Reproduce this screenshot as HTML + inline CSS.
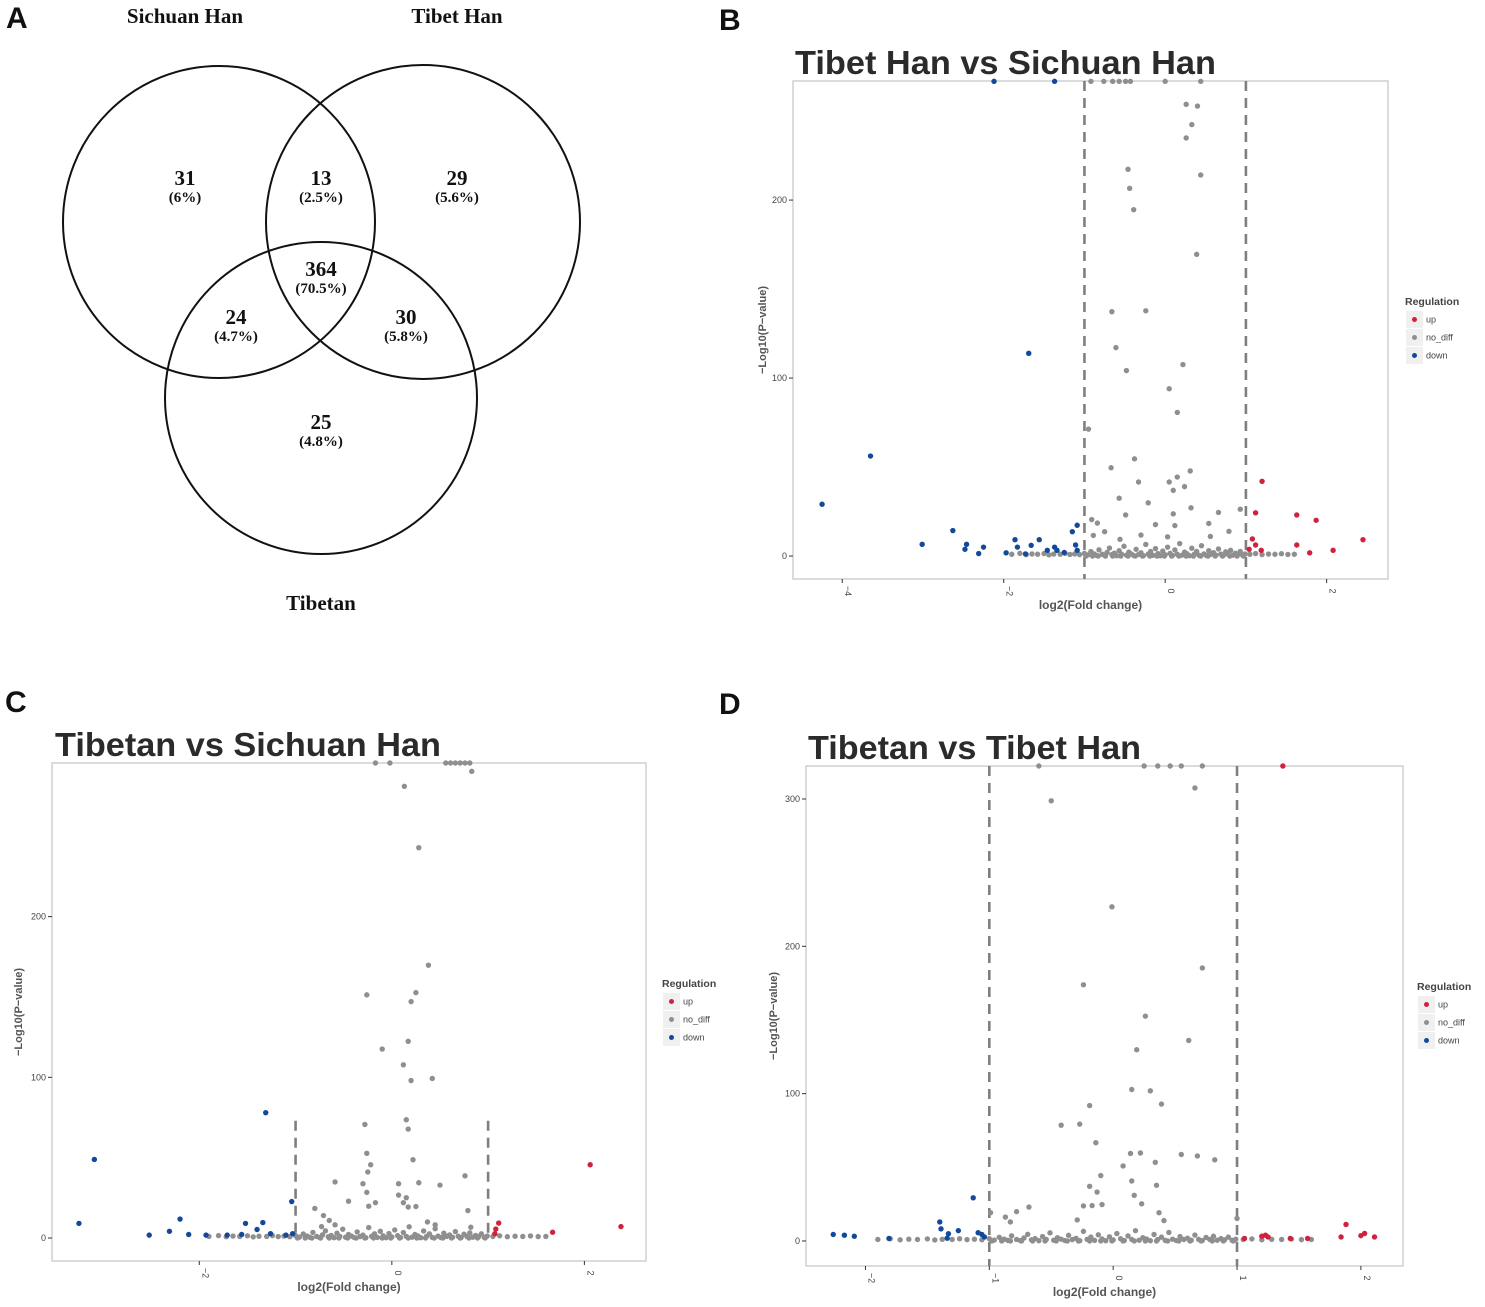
<!DOCTYPE html>
<html><head><meta charset="utf-8"><style>
html,body{margin:0;padding:0;background:#fff;}
svg{display:block;}
</style></head><body>
<svg id="fig" width="1485" height="1307" viewBox="0 0 1485 1307" xmlns="http://www.w3.org/2000/svg">
<g font-family="Liberation Sans, Arial, sans-serif" font-weight="bold" font-size="30" fill="#111">
<text x="6" y="28">A</text>
<text x="719" y="30">B</text>
<text x="5" y="712">C</text>
<text x="719" y="714">D</text>
</g>
<g id="venn" fill="none" stroke="#111" stroke-width="2">
<circle cx="219" cy="222" r="156"/>
<circle cx="423" cy="222" r="157"/>
<circle cx="321" cy="398" r="156"/>
</g>
<g font-family="Liberation Serif, serif" font-weight="bold" fill="#111" text-anchor="middle">
<text x="185" y="23" font-size="21">Sichuan Han</text>
<text x="457" y="23" font-size="21">Tibet Han</text>
<text x="321" y="610" font-size="21">Tibetan</text>
<g font-size="21">
<text x="185" y="185">31</text>
<text x="321" y="185">13</text>
<text x="457" y="185">29</text>
<text x="321" y="276">364</text>
<text x="236" y="324">24</text>
<text x="406" y="324">30</text>
<text x="321" y="429">25</text>
</g>
<g font-size="15">
<text x="185" y="202">(6%)</text>
<text x="321" y="202">(2.5%)</text>
<text x="457" y="202">(5.6%)</text>
<text x="321" y="293">(70.5%)</text>
<text x="236" y="341">(4.7%)</text>
<text x="406" y="341">(5.8%)</text>
<text x="321" y="446">(4.8%)</text>
</g>
</g>
</svg>
<script>
// ---- shared near-zero cloud (gray, no_diff) ----
const cloudX = [-1.9,-1.8,-1.72,-1.65,-1.58,-1.5,-1.44,-1.38,-1.3,-1.24,-1.18,-1.12,-1.06,
-1.0,-0.96,-0.92,-0.88,-0.85,-0.82,-0.78,-0.75,-0.72,-0.69,-0.66,-0.63,-0.6,-0.57,-0.54,-0.51,-0.48,-0.45,-0.42,-0.39,-0.36,-0.33,-0.3,-0.27,-0.24,-0.21,-0.18,-0.15,-0.12,-0.09,-0.06,-0.03,0,0.03,0.06,0.09,0.12,0.15,0.18,0.21,0.24,0.27,0.3,0.33,0.36,0.39,0.42,0.45,0.48,0.51,0.54,0.57,0.6,0.63,0.66,0.69,0.72,0.75,0.78,0.81,0.84,0.87,0.9,0.93,0.96,0.99,
-0.98,-0.9,-0.83,-0.74,-0.65,-0.55,-0.46,-0.37,-0.28,-0.19,-0.1,-0.01,0.08,0.17,0.26,0.35,0.44,0.53,0.62,0.71,0.8,0.89,0.97,
1.05,1.12,1.2,1.28,1.36,1.44,1.52,1.6];
const cloudY = [1,1.5,0.8,1.2,1,1.4,0.7,1.1,1,1.5,0.9,1.2,0.8,
1.5,0.6,2.5,1.2,0.4,3.5,1,0.3,2,4.5,0.8,1.6,0.2,3,1,5.5,0.5,2.2,1.2,0.3,3.8,0.9,1.8,0.2,6.5,1.1,2.6,0.4,4.2,1.4,0.2,2.8,0.7,5,1.5,0.3,3.4,1,7,0.5,2.2,1.3,0.2,4.4,1,2.6,0.4,5.8,1.2,0.3,3,1,1.9,0.5,4,1.1,0.3,2.4,1,3.2,0.5,1.6,0.8,2.6,0.4,1.2,
0,0,0,0,0,0,0,0,0,0,0,0,0,0,0,0,0,0,0,0,0,0,0,
1,1.4,0.8,1.1,1,1.3,0.9,1];

// ---- Panel B: Tibet Han vs Sichuan Han ----
const bTicksX = [-4,-2,0,2];
const bTicksY = [0,100,200];
const bUpX = [1.20,1.12,1.63,1.87,1.08,1.12,1.04,1.19,1.63,1.79,2.08,2.45];
const bUpY = [42.0,24.3,23.1,20.1,9.6,6.2,3.8,3.2,6.2,1.8,3.2,9.2];
const bDownX = [-2.12,-1.37,-1.69,-3.65,-4.25,-2.63,-3.01,-2.46,-2.48,-2.25,-2.31,-1.97,-1.86,-1.83,-1.73,-1.66,-1.56,-1.46,-1.37,-1.34,-1.25,-1.15,-1.09,-1.11,-1.09];
const bDownY = [266.7,266.7,113.9,56.2,29.1,14.3,6.6,6.6,3.8,5.0,1.4,1.8,9.2,5.0,1.2,6.0,9.2,3.2,5.0,3.2,2.0,13.7,17.3,6.2,3.2];
const bNoX = [-0.92,-0.76,-0.65,-0.57,-0.49,-0.43,0,0.44,0.26,0.40,0.33,0.26,-0.46,0.44,-0.44,-0.39,0.39,-0.66,-0.24,-0.61,0.22,-0.48,0.05,0.15,-0.95,-0.38,-0.67,0.31,-0.33,0.05,0.15,0.10,0.24,-0.57,-0.21,0.32,0.10,0.66,-0.49,0.93,-0.91,-0.84,-0.12,0.12,0.54,-0.89,-0.75,-0.30,0.03,0.79,-0.56,0.56];
const bNoY = [266.7,266.7,266.7,266.7,266.7,266.7,266.7,266.7,253.8,252.8,242.4,234.9,217.3,214.1,206.6,194.6,169.5,137.3,137.8,117.1,107.6,104.2,94.0,80.7,71.3,54.6,49.6,47.8,41.6,41.6,44.4,36.9,39.0,32.5,29.9,27.1,23.7,24.5,23.1,26.3,20.5,18.5,17.7,17.1,18.3,11.6,13.7,11.8,10.8,13.9,9.4,11.0];

// ---- Panel C: Tibetan vs Sichuan Han ----
const cTicksX = [-2,0,2];
const cTicksY = [0,100,200];
const cUpX = [1.11,1.08,1.07,1.67,2.06,2.38];
const cUpY = [9.3,5.6,2.7,3.6,45.6,7.1];
const cDownX = [-3.25,-3.09,-2.52,-2.31,-2.20,-2.11,-1.93,-1.71,-1.56,-1.52,-1.40,-1.34,-1.31,-1.26,-1.04,-1.10,-1.03];
const cDownY = [9.1,48.9,1.8,4.2,11.8,2.2,1.8,1.8,2.2,9.1,5.3,9.6,78,2.7,22.7,1.8,2.7];
const cNoX = [-0.17,-0.02,0.56,0.61,0.66,0.71,0.76,0.81,0.83,0.13,0.28,0.38,-0.26,0.25,0.20,0.17,-0.10,0.12,0.20,0.42,0.15,-0.28,0.17,-0.26,-0.22,0.22,-0.25,0.76,-0.59,-0.30,0.07,0.28,0.50,-0.26,0.07,0.15,-0.45,-0.17,0.12,-0.24,0.17,0.25,-0.80,0.79,-0.71,-0.65,-0.59,0.37,0.45,0.82,-0.73];
const cNoY = [295.6,295.6,295.6,295.6,295.6,295.6,295.6,295.6,290.4,281.1,242.9,169.8,151.3,152.7,147.1,122.4,117.6,107.8,98.0,99.3,73.6,70.7,67.8,52.7,45.6,48.7,41.1,38.7,34.9,33.8,33.8,34.4,32.9,28.4,26.7,25.1,22.9,22.0,22.0,19.8,19.3,19.6,18.4,17.1,14.0,10.9,8.2,10.0,8.2,6.7,7.1];

// ---- Panel D: Tibetan vs Tibet Han ----
const dTicksX = [-2,-1,0,1,2];
const dTicksY = [0,100,200,300];
const dUpX = [1.37,1.06,1.20,1.23,1.25,1.43,1.57,1.84,1.88,2.00,2.03,2.11];
const dUpY = [322.4,1.7,3.2,3.9,2.7,1.7,1.7,2.7,11.2,3.6,5.1,2.7];
const dDownX = [-2.26,-2.17,-2.09,-1.81,-1.40,-1.39,-1.33,-1.25,-1.13,-1.09,-1.06,-1.04,-1.34];
const dDownY = [4.4,3.9,3.2,1.7,12.9,8.2,4.9,7.0,29.3,5.6,4.4,2.7,1.9];
const dNoX = [-0.60,0.25,0.36,0.46,0.55,0.72,0.66,-0.50,-0.01,0.72,-0.24,0.26,0.61,0.19,0.15,0.30,0.39,-0.19,-0.42,-0.27,-0.14,0.14,0.22,0.55,0.68,0.82,0.34,0.08,-0.10,0.15,0.35,-0.19,-0.13,0.17,0.23,-0.24,-0.17,-0.09,-0.68,-0.78,-0.99,0.37,-0.87,-0.83,-0.29,0.41,1.00];
const dNoY = [322.4,322.4,322.4,322.4,322.4,322.4,307.5,298.8,226.8,185.3,173.9,152.6,136.1,129.8,102.8,101.9,92.9,91.9,78.6,79.3,66.7,59.4,59.7,58.7,57.7,55.1,53.4,50.9,44.4,40.7,37.8,37.1,33.2,31.0,25.2,23.8,24.0,24.7,23.0,19.9,19.2,19.2,16.2,12.9,14.3,13.8,15.3];

const NS = 'http://www.w3.org/2000/svg';
const svg = document.getElementById('fig');
function mk(tag, attrs, parent){
  const e = document.createElementNS(NS, tag);
  for (const k in attrs) e.setAttribute(k, attrs[k]);
  (parent || svg).appendChild(e);
  return e;
}
const COL_UP = '#d0223a', COL_NO = '#8f8f8f', COL_DOWN = '#12499a';

function panel(cfg){
  const g = mk('g', {});
  
  
  const sx = v => cfg.x0 + (v - cfg.xmin) / (cfg.xmax - cfg.xmin) * (cfg.x1 - cfg.x0);
  const sy = v => cfg.y1 - (v - cfg.ymin) / (cfg.ymax - cfg.ymin) * (cfg.y1 - cfg.y0);
  const f = 'Liberation Sans, Arial, sans-serif';
  const title = mk('text', {x: cfg.tx, y: cfg.ty, 'font-family': f, 'font-weight': 'bold', 'font-size': 33, fill: '#2b2b2b', textLength: cfg.tw, lengthAdjust: 'spacingAndGlyphs'}, g);
  title.textContent = cfg.title;
  
  
  const frame = mk('rect', {x: cfg.x0, y: cfg.y0, width: cfg.x1 - cfg.x0, height: cfg.y1 - cfg.y0, fill: '#fff', stroke: '#c8c8c8', 'stroke-width': 1.3}, g);
  
  
  // y ticks
  cfg.ty_.forEach(t => {
    const y = sy(t);
    const tk = mk('line', {x1: cfg.x0 - 4, x2: cfg.x0, y1: y, y2: y, stroke: '#333', 'stroke-width': 1}, g);
    
    
    const lb = mk('text', {x: cfg.x0 - 6, y: y + 3, 'text-anchor': 'end', 'font-family': f, 'font-size': 9, fill: '#444'}, g);
    lb.textContent = t;
    
    
  });
  cfg.tx_.forEach(t => {
    const x = sx(t);
    const tk = mk('line', {x1: x, x2: x, y1: cfg.y1, y2: cfg.y1 + 4, stroke: '#333', 'stroke-width': 1}, g);
    
    
    const lb = mk('text', {x: 0, y: 0, 'text-anchor': 'middle', 'font-family': f, 'font-size': 9, fill: '#444', transform: 'translate(' + (x + 3) + ',' + (cfg.y1 + 12) + ') rotate(90)'}, g);
    lb.textContent = t < 0 ? '\u2212' + Math.abs(t) : String(t);
    
    
  });
  const xt = mk('text', {x: (cfg.x0 + cfg.x1) / 2, y: cfg.y1 + 30, 'text-anchor': 'middle', 'font-family': f, 'font-weight': 'bold', 'font-size': 12, fill: '#555'}, g);
  xt.textContent = 'log2(Fold change)';
  
  
  const yt = mk('text', {x: 0, y: 0, 'text-anchor': 'middle', 'font-family': f, 'font-weight': 'bold', 'font-size': 11, fill: '#555', transform: 'translate(' + cfg.yx + ',' + ((cfg.y0 + cfg.y1) / 2) + ') rotate(-90)'}, g);
  yt.textContent = '\u2212Log10(P\u2212value)';
  
  
  // dashed thresholds
  [-1, 1].forEach(v => {
    const ln = mk('line', {x1: sx(v), x2: sx(v), y1: sy(cfg.dTop), y2: sy(cfg.dBot), stroke: '#7f7f7f', 'stroke-width': 2.6, 'stroke-dasharray': '10,7'}, g);
    
    
  });
  const dots = (xs, ys, col, nm) => {
    for (let i = 0; i < xs.length; i++) {
      const c = mk('circle', {cx: sx(xs[i]), cy: sy(ys[i]), r: 2.7, fill: col}, g);
      
      
    }
  };
  const cx = [], cy = [];
  for (let i = 0; i < cloudX.length; i++) { if (cloudX[i] >= cfg.cmin && cloudX[i] <= cfg.cmax) { cx.push(cloudX[i]); cy.push(cloudY[i]); } }
  dots(cx, cy, COL_NO, cfg.id + '-point-no-diff');
  dots(cfg.noX, cfg.noY, COL_NO, cfg.id + '-point-no-diff');
  dots(cfg.upX, cfg.upY, COL_UP, cfg.id + '-point-up');
  dots(cfg.downX, cfg.downY, COL_DOWN, cfg.id + '-point-down');
  // legend
  const lg = mk('g', {}, g);
  
  
  const lt = mk('text', {x: cfg.lx, y: cfg.ly, 'font-family': f, 'font-weight': 'bold', 'font-size': 10.5, fill: '#444'}, lg);
  lt.textContent = 'Regulation';
  
  
  [['up', COL_UP], ['no_diff', COL_NO], ['down', COL_DOWN]].forEach((e, i) => {
    const y = cfg.ly + 6 + i * 18;
    const bx = mk('rect', {x: cfg.lx + 1, y: y, width: 17, height: 17, fill: '#f0f0f0'}, lg);
    
    
    const d = mk('circle', {cx: cfg.lx + 9.5, cy: y + 8.5, r: 2.5, fill: e[1]}, lg);
    
    
    const tx = mk('text', {x: cfg.lx + 21, y: y + 11.5, 'font-family': f, 'font-size': 9, fill: '#444'}, lg);
    tx.textContent = e[0];
    
    
  });
}

panel({id: 'panel-b', title: 'Tibet Han vs Sichuan Han', tx: 795, ty: 74, tw: 421,
  x0: 793, x1: 1388, y0: 81, y1: 579, xmin: -4.61, xmax: 2.76, ymin: -12.9, ymax: 266.9,
  tx_: bTicksX, ty_: bTicksY, yx: 766, dTop: 266.9, dBot: -12.9, cmin: -2, cmax: 1.7,
  upX: bUpX, upY: bUpY, downX: bDownX, downY: bDownY, noX: bNoX, noY: bNoY, lx: 1405, ly: 305});
panel({id: 'panel-c', title: 'Tibetan vs Sichuan Han', tx: 55, ty: 756, tw: 386,
  x0: 52, x1: 646, y0: 763, y1: 1261, xmin: -3.53, xmax: 2.64, ymin: -14.3, ymax: 295.6,
  tx_: cTicksX, ty_: cTicksY, yx: 22, dTop: 73, dBot: 0, cmin: -2.3, cmax: 1.6,
  upX: cUpX, upY: cUpY, downX: cDownX, downY: cDownY, noX: cNoX, noY: cNoY, lx: 662, ly: 987});
panel({id: 'panel-d', title: 'Tibetan vs Tibet Han', tx: 808, ty: 759, tw: 333,
  x0: 806, x1: 1403, y0: 766, y1: 1266, xmin: -2.48, xmax: 2.34, ymin: -17, ymax: 322.4,
  tx_: dTicksX, ty_: dTicksY, yx: 777, dTop: 322.4, dBot: -17, cmin: -2, cmax: 1.7,
  upX: dUpX, upY: dUpY, downX: dDownX, downY: dDownY, noX: dNoX, noY: dNoY, lx: 1417, ly: 990});
</script>
</body></html>
